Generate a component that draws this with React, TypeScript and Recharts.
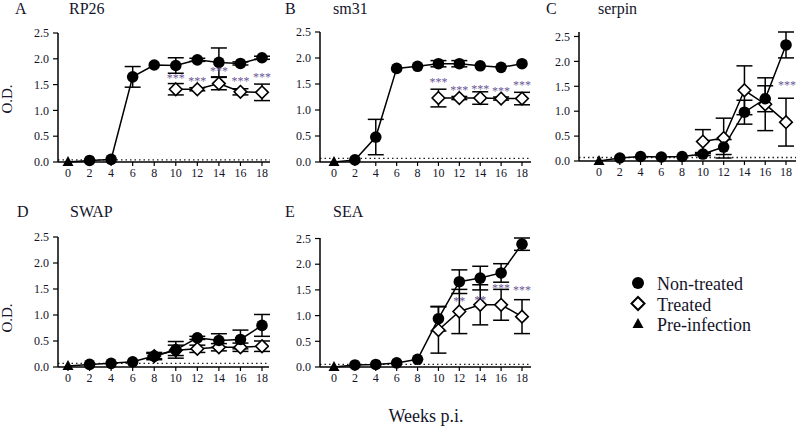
import React from 'react';
import { LineChart, Line, XAxis, YAxis, ErrorBar, ReferenceLine, LabelList } from 'recharts';

const weeks = [0, 2, 4, 6, 8, 10, 12, 14, 16, 18];
const yTicks = [0, 0.5, 1, 1.5, 2, 2.5];

// RP26
const rp26PreInfection = 0;
const rp26NonTreated = [null, 0.03, 0.05, 1.65, 1.88, 1.87, 1.98, 1.93, 1.91, 2.02];
const rp26NonTreatedErr = [null, null, null, 0.2, null, 0.15, 0.03, 0.28, 0.03, 0.03];
const rp26Treated = [null, null, null, null, null, 1.41, 1.41, 1.52, 1.36, 1.35];
const rp26TreatedErr = [null, null, null, null, null, 0.11, 0.03, 0.12, 0.06, 0.16];
const rp26Stars = ['', '', '', '', '', '***', '***', '***', '***', '***'];
const rp26StarY = [null, null, null, null, null, 1.63, 1.57, 1.76, 1.57, 1.65];

// sm31
const sm31PreInfection = 0;
const sm31NonTreated = [null, 0.04, 0.48, 1.8, 1.84, 1.89, 1.89, 1.85, 1.82, 1.89];
const sm31NonTreatedErr = [null, null, 0.34, null, null, 0.06, 0.06, null, null, null];
const sm31Treated = [null, null, null, null, null, 1.23, 1.23, 1.23, 1.22, 1.22];
const sm31TreatedErr = [null, null, null, null, null, 0.17, 0.03, 0.12, 0.03, 0.12];
const sm31Stars = ['', '', '', '', '', '***', '***', '***', '***', '***'];
const sm31StarY = [null, null, null, null, null, 1.54, 1.39, 1.41, 1.37, 1.49];

// serpin
const serpinPreInfection = 0;
const serpinNonTreated = [null, 0.06, 0.09, 0.08, 0.09, 0.14, 0.28, 0.98, 1.25, 2.33];
const serpinNonTreatedErr = [null, null, null, null, null, 0.03, 0.15, 0.24, 0.26, 0.26];
const serpinTreated = [null, null, null, null, null, 0.39, 0.46, 1.42, 1.14, 0.78];
const serpinTreatedErr = [null, null, null, null, null, 0.24, 0.4, 0.49, 0.53, 0.48];
const serpinStars = ['', '', '', '', '', '', '', '', '', '***'];
const serpinStarY = [null, null, null, null, null, null, null, null, null, 1.52];

// SWAP
const swapPreInfection = 0.02;
const swapNonTreated = [null, 0.05, 0.07, 0.1, 0.21, 0.33, 0.56, 0.51, 0.53, 0.8];
const swapNonTreatedErr = [null, null, null, null, 0.07, 0.16, 0.03, 0.13, 0.18, 0.21];
const swapTreated = [null, null, null, null, 0.21, 0.32, 0.35, 0.38, 0.38, 0.4];
const swapTreatedErr = [null, null, null, null, 0.05, 0.1, 0.07, 0.07, 0.08, 0.1];

// SEA
const seaPreInfection = 0;
const seaNonTreated = [null, 0.04, 0.05, 0.08, 0.15, 0.94, 1.66, 1.73, 1.83, 2.39];
const seaNonTreatedErr = [null, null, null, null, null, 0.24, 0.23, 0.23, 0.18, 0.12];
const seaTreated = [null, null, null, null, null, 0.72, 1.08, 1.21, 1.21, 0.98];
const seaTreatedErr = [null, null, null, null, null, 0.45, 0.43, 0.39, 0.3, 0.33];
const seaStars = ['', '', '', '', '', '', '**', '**', '***', '***'];
const seaStarY = [null, null, null, null, null, null, 1.29, 1.31, 1.54, 1.5];

const SERIF = "'Liberation Serif', Tinos, 'Times New Roman', 'DejaVu Serif', serif";
const INK = '#14142a';
const STAR = '#6a5696';

const buildRows = (
  pre: number,
  nt: (number | null)[],
  ntErr: (number | null)[],
  tr: (number | null)[],
  trErr: (number | null)[],
  stars?: string[],
  starY?: (number | null)[],
) =>
  weeks.map((week, i) => ({
    week,
    pre: i === 0 ? pre : null,
    nt: i === 0 ? pre : nt[i],
    ntErr: ntErr[i],
    tr: tr[i],
    trErr: trErr[i],
    star: stars ? stars[i] : '',
    starY: starY ? starY[i] : null,
  }));

const CircleDot = (p: any) => {
  const { cx, cy, payload, index } = p;
  if (payload.week === 0 || cx == null || cy == null) return <g key={`c${index}`} />;
  return <circle key={`c${index}`} cx={cx} cy={cy} r={5.8} fill="#000" />;
};

const DiamondDot = (p: any) => {
  const { cx, cy, index } = p;
  if (cx == null || cy == null || p.value == null) return <g key={`d${index}`} />;
  const s = 6.3;
  return (
    <polygon
      key={`d${index}`}
      points={`${cx},${cy - s} ${cx + s},${cy} ${cx},${cy + s} ${cx - s},${cy}`}
      fill="#fff"
      stroke="#000"
      strokeWidth={1.6}
    />
  );
};

const TriangleDot = (p: any) => {
  const { cx, cy, index } = p;
  if (cx == null || cy == null || p.value == null) return <g key={`t${index}`} />;
  return (
    <polygon key={`t${index}`} points={`${cx},${cy - 6} ${cx + 5.5},${cy + 4} ${cx - 5.5},${cy + 4}`} fill="#000" />
  );
};

interface PanelProps {
  rows: ReturnType<typeof buildRows>;
  yAxisX: number;
  x0: number;
  x18: number;
  xEnd: number;
  yTop: number;
  yBottom: number;
  cutoff: number;
  starDx?: number;
}

const Y_W = 40;
const X_H = 30;
const TOP = 10;

function Panel({ rows, yAxisX, x0, x18, xEnd, yTop, yBottom, cutoff, starDx = 0 }: PanelProps) {
  const unit = (x18 - x0) / 18;
  const dMin = -(x0 - yAxisX) / unit;
  const dMax = 18 + (xEnd - x18) / unit;
  const width = xEnd - yAxisX + Y_W + 2;
  const height = yBottom - yTop + TOP + X_H;

  const renderStar = (p: any) => {
    const { x, y, value, index } = p;
    if (!value || x == null || y == null || isNaN(y)) return null;
    return (
      <text
        key={`s${index}`}
        x={x + starDx}
        y={y}
        textAnchor="middle"
        dominantBaseline="central"
        fontSize={12}
        style={{ fontFamily: SERIF }}
        fill={STAR}
      >
        {value}
      </text>
    );
  };

  return (
    <div style={{ position: 'absolute', left: yAxisX - Y_W, top: yTop - TOP }}>
      <LineChart
        width={width}
        height={height}
        data={rows}
        margin={{ top: TOP, right: 2, left: 0, bottom: 0 }}
        style={{ fontFamily: SERIF }}
      >
        <XAxis
          type="number"
          dataKey="week"
          domain={[dMin, dMax]}
          ticks={weeks}
          allowDataOverflow
          height={X_H}
          tickSize={4}
          tickMargin={2}
          axisLine={{ stroke: '#000', strokeWidth: 1.5 }}
          tickLine={{ stroke: '#000', strokeWidth: 1.2 }}
          tick={{ fontSize: 12, fontFamily: SERIF, fill: INK }}
        />
        <YAxis
          type="number"
          domain={[0, 2.5]}
          ticks={yTicks}
          width={Y_W}
          tickSize={5}
          tickMargin={4}
          tickFormatter={(v: number) => v.toFixed(1)}
          axisLine={{ stroke: '#000', strokeWidth: 1.5 }}
          tickLine={{ stroke: '#000', strokeWidth: 1.2 }}
          tick={{ fontSize: 12, fontFamily: SERIF, fill: INK }}
        />
        <ReferenceLine y={cutoff} stroke="#222" strokeDasharray="1.5 3" strokeWidth={1.3} />
        <Line
          dataKey="tr"
          stroke="#000"
          strokeWidth={1.5}
          dot={DiamondDot}
          activeDot={false}
          isAnimationActive={false}
        >
          <ErrorBar dataKey="trErr" width={8} stroke="#000" strokeWidth={1.5} direction="y" />
        </Line>
        <Line
          dataKey="nt"
          stroke="#000"
          strokeWidth={1.5}
          dot={CircleDot}
          activeDot={false}
          isAnimationActive={false}
        >
          <ErrorBar dataKey="ntErr" width={8} stroke="#000" strokeWidth={1.5} direction="y" />
        </Line>
        <Line
          dataKey="pre"
          stroke="none"
          dot={TriangleDot}
          activeDot={false}
          isAnimationActive={false}
        />
        <Line dataKey="starY" stroke="none" dot={false} activeDot={false} isAnimationActive={false}>
          <LabelList dataKey="star" content={renderStar} />
        </Line>
      </LineChart>
    </div>
  );
}

const panelA = buildRows(rp26PreInfection, rp26NonTreated, rp26NonTreatedErr, rp26Treated, rp26TreatedErr, rp26Stars, rp26StarY);
const panelB = buildRows(sm31PreInfection, sm31NonTreated, sm31NonTreatedErr, sm31Treated, sm31TreatedErr, sm31Stars, sm31StarY);
const panelC = buildRows(serpinPreInfection, serpinNonTreated, serpinNonTreatedErr, serpinTreated, serpinTreatedErr, serpinStars, serpinStarY);
const panelD = buildRows(swapPreInfection, swapNonTreated, swapNonTreatedErr, swapTreated, swapTreatedErr);
const panelE = buildRows(seaPreInfection, seaNonTreated, seaNonTreatedErr, seaTreated, seaTreatedErr, seaStars, seaStarY);

export default function App() {
  const txt = { style: { fontFamily: SERIF }, fill: INK };
  return (
    <div
      style={{
        position: 'absolute',
        left: 0,
        top: 0,
        width: 800,
        height: 431,
        background: '#fff',
        overflow: 'hidden',
        fontFamily: SERIF,
      }}
    >
      <Panel rows={panelA} yAxisX={58} x0={68} x18={262} xEnd={270} yTop={33} yBottom={162} cutoff={0.04} />
      <Panel rows={panelB} yAxisX={320} x0={334} x18={522} xEnd={531} yTop={32} yBottom={162} cutoff={0.07} />
      <Panel rows={panelC} yAxisX={579} x0={599} x18={786} xEnd={796} yTop={32} yBottom={161} cutoff={0.07} starDx={1} />
      <Panel rows={panelD} yAxisX={58} x0={68} x18={262} xEnd={269} yTop={237} yBottom={367} cutoff={0.07} />
      <Panel rows={panelE} yAxisX={320} x0={334} x18={522} xEnd={531} yTop={238} yBottom={367} cutoff={0.05} />
      <svg width={800} height={431} style={{ position: 'absolute', left: 0, top: 0, pointerEvents: 'none' }}>
        <text x={15} y={14} fontSize={16} {...txt}>A</text>
        <text x={69} y={14} fontSize={16} {...txt}>RP26</text>
        <text x={285} y={14} fontSize={16} {...txt}>B</text>
        <text x={333} y={14} fontSize={16} {...txt}>sm31</text>
        <text x={546} y={14} fontSize={16} {...txt}>C</text>
        <text x={598} y={14} fontSize={16} {...txt}>serpin</text>
        <text x={17} y={217} fontSize={16} {...txt}>D</text>
        <text x={70} y={217} fontSize={16} {...txt}>SWAP</text>
        <text x={285} y={217} fontSize={16} {...txt}>E</text>
        <text x={333} y={217} fontSize={16} {...txt}>SEA</text>
        <text x={12} y={99} fontSize={15} textAnchor="middle" transform="rotate(-90 12 99)" {...txt}>O.D.</text>
        <text x={12} y={318} fontSize={15} textAnchor="middle" transform="rotate(-90 12 318)" {...txt}>O.D.</text>
        <text x={426} y={422} fontSize={18} textAnchor="middle" {...txt}>Weeks p.i.</text>
        <circle cx={638} cy={283} r={6} fill="#000" />
        <polygon points="638,297 644.5,303.5 638,310 631.5,303.5" fill="#fff" stroke="#000" strokeWidth={2} />
        <polygon points="638,318 643.5,328 632.5,328" fill="#000" />
        <text x={657} y={290} fontSize={18} {...txt}>Non-treated</text>
        <text x={657} y={311} fontSize={18} {...txt}>Treated</text>
        <text x={657} y={331} fontSize={18} {...txt}>Pre-infection</text>
      </svg>
    </div>
  );
}
